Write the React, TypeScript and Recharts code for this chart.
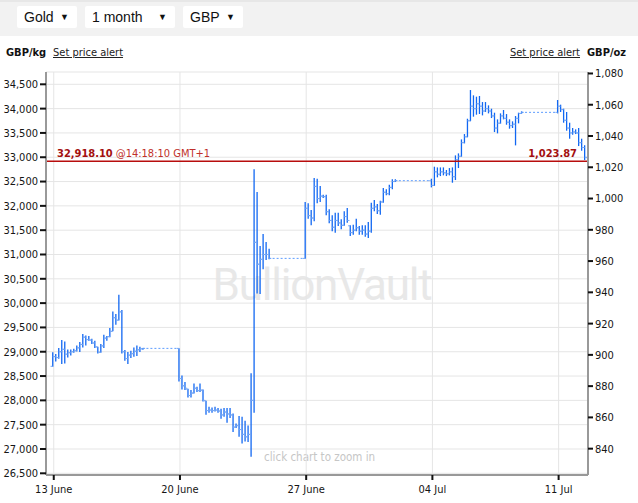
import React from "react";
import { ComposedChart, Bar, Line, XAxis, YAxis, CartesianGrid, ReferenceLine } from "recharts";

// days after Mon 13 June 2016
const weekStarts = [0, 7, 14, 21, 28];
const dateTicks = [0, 7, 14, 21, 28];
const dateLabels = ["13 June", "20 June", "27 June", "04 Jul", "11 Jul"];

const kgTicks = [26500, 27000, 27500, 28000, 28500, 29000, 29500, 30000, 30500, 31000, 31500, 32000, 32500, 33000, 33500, 34000, 34500];
const ozTicks = [840, 860, 880, 900, 920, 940, 960, 980, 1000, 1020, 1040, 1060, 1080];

const OZ_PER_KG = 32.1507;
const kgDomain = [26465, 34753];
const ozDomain = [kgDomain[0] / OZ_PER_KG, kgDomain[1] / OZ_PER_KG];

const lastPrice = 32918.1;

// 4-hour bars, first one Sunday 22:00 — [open, high, low, close] in GBP/kg
const week1 = [
  [28700, 28990, 28690, 28900], [28900, 28952, 28801, 28880], [28880, 29075, 28856, 29000],
  [29000, 29240, 28746, 29050], [29050, 29213, 28760, 28950], [28950, 29048, 28883, 28980],
  [28980, 29048, 28925, 29000], [29000, 29062, 28980, 29020], [29020, 29130, 29007, 29080],
  [29080, 29199, 28993, 29150], [29150, 29363, 29089, 29300], [29300, 29336, 29130, 29250],
  [29250, 29322, 29226, 29240], [29240, 29267, 29158, 29180], [29180, 29226, 29075, 29100],
  [29100, 29103, 28966, 28990], [28990, 29158, 28980, 29120], [29120, 29350, 29075, 29280],
  [29280, 29322, 29226, 29310], [29310, 29487, 29300, 29420], [29420, 29830, 29420, 29700],
  [29700, 29775, 29555, 29650], [29650, 30173, 29640, 29820], [29820, 29857, 28966, 29000],
  [29000, 29034, 28815, 28860], [28860, 28993, 28746, 28930], [28930, 29021, 28870, 28960],
  [28960, 29089, 28897, 29010], [29010, 29130, 28911, 29040], [29040, 29103, 28993, 29060],
  [29060, 29075, 29040, 29069],
];

const week2 = [
  [29069, 29070, 28390, 28450], [28450, 28513, 28225, 28300], [28300, 28376, 28211, 28250],
  [28230, 28239, 28061, 28100], [28100, 28211, 28061, 28150], [28150, 28349, 28140, 28250],
  [28250, 28280, 28170, 28200], [28200, 28349, 28170, 28210], [28210, 28225, 27978, 28000],
  [27990, 27992, 27704, 27790], [27790, 27869, 27745, 27800], [27800, 27855, 27745, 27790],
  [27790, 27869, 27773, 27800], [27800, 27841, 27745, 27780], [27780, 27828, 27622, 27700],
  [27700, 27841, 27663, 27760], [27760, 27841, 27540, 27720], [27720, 27841, 27636, 27700],
  [27700, 27731, 27348, 27450], [27450, 27526, 27430, 27480], [27480, 27677, 27250, 27400],
  [27400, 27663, 27115, 27300], [27300, 27581, 27156, 27250], [27250, 27485, 27142, 27300],
  [27300, 28555, 26840, 28000], [28000, 32751, 27746, 31250], [31250, 32285, 30200, 30800],
  [30800, 31174, 30187, 30900], [30900, 31421, 30694, 31000], [31000, 31256, 30886, 31000],
  [31000, 31119, 30900, 30920],
];

const week3 = [
  [30920, 32079, 30914, 31950], [31950, 32052, 31736, 31800], [31800, 31915, 31599, 31750],
  [31750, 32573, 31681, 32400], [32400, 32559, 32052, 32150], [32150, 32408, 32079, 32200],
  [32200, 32230, 32162, 32190], [32190, 32230, 31805, 31880], [31880, 31928, 31640, 31700],
  [31700, 31805, 31476, 31560], [31560, 31860, 31448, 31700], [31700, 31860, 31586, 31650],
  [31650, 31723, 31517, 31600], [31600, 31887, 31590, 31780], [31780, 31956, 31654, 31700],
  [31590, 31599, 31380, 31450], [31450, 31613, 31407, 31500], [31500, 31736, 31476, 31550],
  [31550, 31586, 31407, 31480], [31480, 31599, 31407, 31500], [31500, 31599, 31366, 31420],
  [31420, 31668, 31339, 31480], [31480, 32066, 31448, 31950], [31950, 32120, 31887, 31980],
  [31980, 32038, 31832, 31900], [31900, 32107, 31819, 32080], [32080, 32367, 32066, 32280],
  [32280, 32340, 32216, 32250], [32250, 32436, 32216, 32380], [32380, 32545, 32340, 32500],
  [32500, 32545, 32491, 32518],
];

const week4 = [
  [32518, 32558, 32380, 32420], [32420, 32805, 32410, 32700], [32700, 32791, 32586, 32650],
  [32650, 32791, 32613, 32700], [32700, 32791, 32627, 32680], [32680, 32737, 32613, 32660],
  [32660, 32778, 32627, 32700], [32700, 32791, 32476, 32600], [32600, 33038, 32531, 32950],
  [32950, 33079, 32778, 33020], [33020, 33367, 33010, 33300], [33300, 33477, 33285, 33420],
  [33420, 33792, 33410, 33750], [33750, 34382, 33740, 34050], [34050, 34273, 33834, 34000],
  [34000, 34245, 33875, 34100], [34100, 34259, 33889, 34050], [34050, 34135, 33861, 33950],
  [33950, 34135, 33930, 34000], [34000, 34067, 33902, 33950], [33950, 33998, 33806, 33850],
  [33850, 33916, 33518, 33600], [33600, 33779, 33491, 33700], [33700, 33902, 33690, 33850],
  [33850, 33971, 33779, 33800], [33800, 33888, 33669, 33720], [33720, 33779, 33587, 33650],
  [33650, 33738, 33601, 33680], [33680, 33847, 33244, 33800], [33800, 33916, 33697, 33900],
  [33900, 33943, 33895, 33923],
];

const week5 = [
  [33923, 34177, 33902, 34050], [34050, 34081, 33930, 33980], [33980, 33998, 33710, 33760],
  [33760, 33930, 33546, 33600], [33600, 33710, 33381, 33500], [33500, 33601, 33463, 33520],
  [33520, 33573, 33477, 33500], [33500, 33601, 33230, 33300], [33300, 33381, 33134, 33200],
  [33200, 33244, 32942, 33000], [32990, 32997, 32901, 32918],
];

const weeks = [week1, week2, week3, week4, week5];

const rows: any[] = [];
weeks.forEach((bars, w) => {
  const first = rows.length;
  bars.forEach((b, i) => {
    rows.push({
      t: weekStarts[w] + (i * 4 - 2) / 24,
      open: b[0], high: b[1], low: b[2], close: b[3],
      range: [b[2], b[1]],
      gap: null,
    });
  });
  // dashed line over the weekend: last close -> first open
  if (w > 0) {
    rows[first - 1].gap = rows[first - 1].close;
    rows[first].gap = rows[first].open;
  }
});

const FONT = "'DejaVu Sans Condensed', 'DejaVu Sans', sans-serif";
const BAR_BLUE = "#1167f2";
const TICK_BLUE = "#79a9f3";

const fmt = (v: number) => v.toLocaleString("en-US");
const fmt2 = (v: number) => v.toLocaleString("en-US", { minimumFractionDigits: 2, maximumFractionDigits: 2 });

function OhlcBar(props: any) {
  const { x, y, width, height, payload } = props;
  if (x == null || !payload) return null;
  const top = height < 0 ? y + height : y;
  const h = Math.abs(height);
  const cx = x + width / 2;
  const span = payload.high - payload.low;
  const py = (v: number) => (span === 0 ? top : top + ((payload.high - v) / span) * h);
  return (
    <g>
      <line x1={cx} x2={cx} y1={top} y2={top + Math.max(h, 1)} stroke={BAR_BLUE} strokeWidth={1.3} />
      <line x1={cx - 2.2} x2={cx} y1={py(payload.open)} y2={py(payload.open)} stroke={TICK_BLUE} strokeWidth={1} />
      <line x1={cx} x2={cx + 2.2} y1={py(payload.close)} y2={py(payload.close)} stroke={TICK_BLUE} strokeWidth={1} />
    </g>
  );
}

function PriceLabel(props: any) {
  const vb = props.viewBox;
  if (!vb) return null;
  return (
    <g fontFamily={FONT} fontSize={11}>
      <text x={vb.x + 11} y={vb.y - 4} fill="#a3100f">
        <tspan fontWeight="bold">{fmt2(lastPrice)}</tspan>
        <tspan dx={3} fill="#c0302a">@14:18:10 GMT+1</tspan>
      </text>
      <text x={vb.x + vb.width - 11} y={vb.y - 4} fill="#a3100f" fontWeight="bold" textAnchor="end">
        {fmt2(lastPrice / OZ_PER_KG)}
      </text>
    </g>
  );
}

function Dropdown({ left, width, label }: { left: number; width: number; label: string }) {
  return (
    <div style={{ position: "absolute", left, top: 6, width, height: 22, background: "#fff", borderRadius: 2, fontFamily: "'Liberation Sans', Arial, sans-serif", fontSize: 14, lineHeight: "22px", color: "#111" }}>
      <span style={{ position: "absolute", left: 7 }}>{label}</span>
      <span style={{ position: "absolute", right: 8, fontSize: 9 }}>▼</span>
    </div>
  );
}

export default function App() {
  const small = { fontFamily: FONT, fontSize: 11, color: "#111", position: "absolute" as const, top: 46, lineHeight: "14px" };
  return (
    <div style={{ position: "relative", width: 638, height: 503, background: "#fff", overflow: "hidden" }}>
      <style>{"body{margin:0}"}</style>
      <div style={{ position: "absolute", left: 0, top: 0, width: 638, height: 36, background: "#f2f2f2", borderTop: "2px solid #e7e7e7", boxSizing: "border-box" }} />
      <Dropdown left={17} width={60} label="Gold" />
      <Dropdown left={85} width={90} label="1 month" />
      <Dropdown left={183} width={60} label="GBP" />

      <div style={{ ...small, left: 6, fontWeight: "bold" }}>GBP/kg</div>
      <div style={{ ...small, left: 53, textDecoration: "underline", color: "#222" }}>Set price alert</div>
      <div style={{ ...small, right: 58, textDecoration: "underline", color: "#222" }}>Set price alert</div>
      <div style={{ ...small, left: 587, fontWeight: "bold" }}>GBP/oz</div>

      <div style={{ position: "absolute", left: 210, top: 260, width: 224, textAlign: "center", fontFamily: "Roboto, sans-serif", fontSize: 44, letterSpacing: -1.2, color: "#e8e8e8", lineHeight: "50px" }}>
        BullionVault
      </div>
      <div style={{ position: "absolute", left: 264, top: 450, fontFamily: FONT, fontSize: 11.5, color: "#c6c6c6", lineHeight: "14px" }}>
        click chart to zoom in
      </div>

      <div style={{ position: "absolute", left: 0, top: 0 }}>
        <ComposedChart width={638} height={503} data={rows} margin={{ top: 72, right: 0, bottom: 0, left: 0 }}>
          <CartesianGrid yAxisId="left" stroke="#e5e5e5" strokeWidth={1} />
          <XAxis
            dataKey="t"
            type="number"
            domain={[-0.43, 29.63]}
            allowDataOverflow
            ticks={dateTicks}
            tickFormatter={(v: number) => dateLabels[dateTicks.indexOf(v)]}
            height={28}
            stroke="#999"
            strokeWidth={2}
            tickSize={5}
            tickMargin={5}
            tickLine={{ stroke: "#111", strokeWidth: 2 }}
            tick={{ fill: "#151515", fontSize: 11, fontFamily: FONT }}
          />
          <YAxis
            yAxisId="left"
            orientation="left"
            width={46}
            domain={kgDomain}
            allowDataOverflow
            ticks={kgTicks}
            tickFormatter={fmt}
            stroke="#999"
            strokeWidth={2}
            tickSize={6}
            tickMargin={2}
            tickLine={{ stroke: "#111", strokeWidth: 2 }}
            tick={{ fill: "#151515", fontSize: 11, fontFamily: FONT }}
          />
          <YAxis
            yAxisId="right"
            orientation="right"
            width={50}
            domain={ozDomain}
            allowDataOverflow
            ticks={ozTicks}
            tickFormatter={fmt}
            stroke="#999"
            strokeWidth={2}
            tickSize={5}
            tickMargin={2}
            tickLine={{ stroke: "#111", strokeWidth: 2 }}
            tick={{ fill: "#151515", fontSize: 11, fontFamily: FONT }}
          />
          <Line
            yAxisId="left"
            dataKey="gap"
            stroke="#5d9cff"
            strokeWidth={1}
            strokeDasharray="2 2"
            dot={false}
            activeDot={false}
            connectNulls={false}
            isAnimationActive={false}
          />
          <Bar yAxisId="left" dataKey="range" barSize={2} shape={<OhlcBar />} isAnimationActive={false} />
          <ReferenceLine yAxisId="left" y={lastPrice} stroke="#b80d0d" strokeWidth={1.5} label={<PriceLabel />} />
        </ComposedChart>
      </div>
    </div>
  );
}
